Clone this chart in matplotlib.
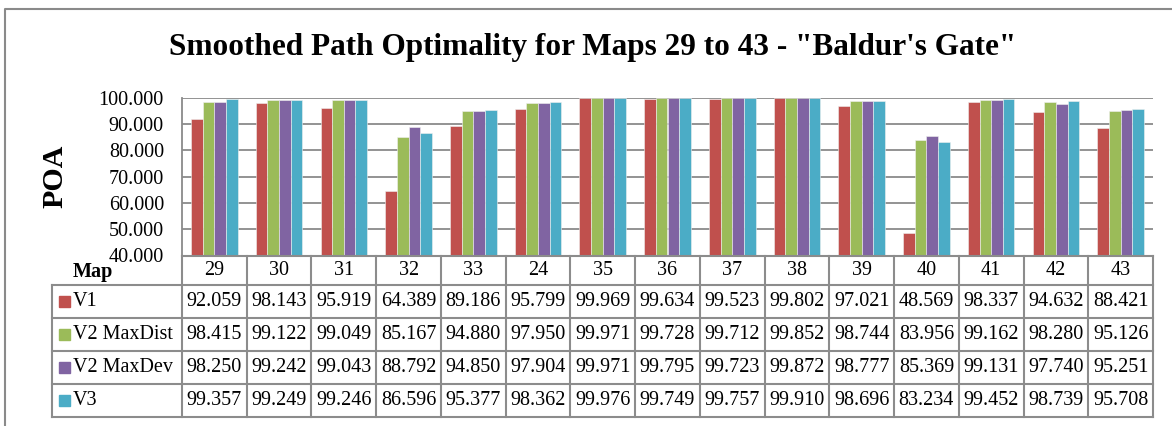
import matplotlib
matplotlib.use("Agg")
import matplotlib.pyplot as plt
from matplotlib.patches import Rectangle
from matplotlib.lines import Line2D
import numpy as np

plt.rcParams['font.family'] = ['Liberation Serif', 'DejaVu Serif']

maps = ["29", "30", "31", "32", "33", "24", "35", "36", "37", "38", "39", "40", "41", "42", "43"]
series_names = ["V1", "V2 MaxDist", "V2 MaxDev", "V3"]
v1 = [92.059, 98.143, 95.919, 64.389, 89.186, 95.799, 99.969, 99.634, 99.523, 99.802, 97.021, 48.569, 98.337, 94.632, 88.421]
v2_maxdist = [98.415, 99.122, 99.049, 85.167, 94.880, 97.950, 99.971, 99.728, 99.712, 99.852, 98.744, 83.956, 99.162, 98.280, 95.126]
v2_maxdev = [98.250, 99.242, 99.043, 88.792, 94.850, 97.904, 99.971, 99.795, 99.723, 99.872, 98.777, 85.369, 99.131, 97.740, 95.251]
v3 = [99.357, 99.249, 99.246, 86.596, 95.377, 98.362, 99.976, 99.749, 99.757, 99.910, 98.696, 83.234, 99.452, 98.739, 95.708]
y_ticks = [40, 50, 60, 70, 80, 90, 100]
colors = ["#C0504D", "#9BBB59", "#8064A2", "#4BACC6"]
title = "Smoothed Path Optimality for Maps 29 to 43 - \"Baldur's Gate\""

W, H = 1172, 426
fig = plt.figure(figsize=(W / 100, H / 100), dpi=100)

def fx(px):
    return px / W

def fy(py):
    return 1 - py / H

grid_col = "#8A8A8A"

# Outer frame (only top and left edges visible in the crop)
fig.lines.append(Line2D([fx(5), fx(5), 1.0], [0.0, fy(9), fy(9)], transform=fig.transFigure,
                        color=grid_col, lw=1.5))

plot_l, plot_r, plot_t, plot_b = 182, 1153, 97.7, 255.5
ax = fig.add_axes([fx(plot_l), fy(plot_b), fx(plot_r) - fx(plot_l), fy(plot_t) - fy(plot_b)])
n = len(maps)
x = np.arange(n)
bw = 0.18
all_series = [v1, v2_maxdist, v2_maxdev, v3]
for k, (vals, c) in enumerate(zip(all_series, colors)):
    ax.bar(x + (k - 1.5) * bw, vals, width=bw, color=c, edgecolor="#F0F0F0", linewidth=0.4, zorder=3)
ax.set_xlim(-0.5, n - 0.5)
ax.set_ylim(40, 100)
ax.set_yticks(y_ticks)
ax.set_yticklabels([f"{t:.3f}" for t in y_ticks], fontsize=14.5)
ax.set_xticks([])
ax.tick_params(axis='y', length=0, pad=13)
ax.grid(axis='y', color=grid_col, lw=1.3, zorder=0)
for side, s in ax.spines.items():
    s.set_color(grid_col)
    s.set_linewidth(1.3)
ax.spines['right'].set_visible(False)
ax.spines['top'].set_visible(False)
ax.spines['bottom'].set_visible(False)

fig.text(fx(593), fy(47), title, ha="center", va="center", fontsize=22.5, fontweight="bold")
fig.text(fx(55), fy(176), "POA", rotation=90, ha="center", va="center", fontsize=21.5, fontweight="bold")
fig.text(fx(93), fy(272), "Map", ha="center", va="center", fontsize=14.5, fontweight="bold")

# Data table
tab_l, tab_t, tab_b = 52, plot_b, 417
row_edges = [255.5, 285, 318, 351, 384, 417]
col_w = (plot_r - plot_l) / n
left_x = -0.5 - (plot_l - tab_l) / col_w
tax = fig.add_axes([fx(tab_l), fy(tab_b), fx(plot_r) - fx(tab_l), fy(tab_t) - fy(tab_b)])
tax.set_xlim(left_x, n - 0.5)
tax.set_ylim(tab_b, tab_t)
tax.axis("off")
lc = "#8C8C8C"
lw = 1.5
tax.plot([-0.5, n - 0.5], [row_edges[0], row_edges[0]], color=lc, lw=lw, clip_on=False)
for i in range(n + 1):
    tax.plot([i - 0.5, i - 0.5], [row_edges[0], row_edges[-1]], color=lc, lw=lw, clip_on=False)
tax.plot([left_x, left_x], [row_edges[1], row_edges[-1]], color=lc, lw=lw, clip_on=False)
for r in range(1, len(row_edges)):
    tax.plot([left_x, n - 0.5], [row_edges[r], row_edges[r]], color=lc, lw=lw, clip_on=False)
yc0 = (row_edges[0] + row_edges[1]) / 2
for i, m in enumerate(maps):
    tax.text(i, yc0, m, ha="center", va="center", fontsize=14.5)
px_per_unit = col_w
for r, (name, vals, c) in enumerate(zip(series_names, all_series, colors)):
    yy = (row_edges[r + 1] + row_edges[r + 2]) / 2
    tax.add_patch(Rectangle((left_x + 7 / px_per_unit, yy - 5.5), 11 / px_per_unit, 11, color=c))
    tax.text(left_x + 21 / px_per_unit, yy, name, ha="left", va="center", fontsize=14.5)
    for i, v in enumerate(vals):
        tax.text(i, yy, f"{v:.3f}", ha="center", va="center", fontsize=14.5)

fig.savefig("out.png", dpi=100)
